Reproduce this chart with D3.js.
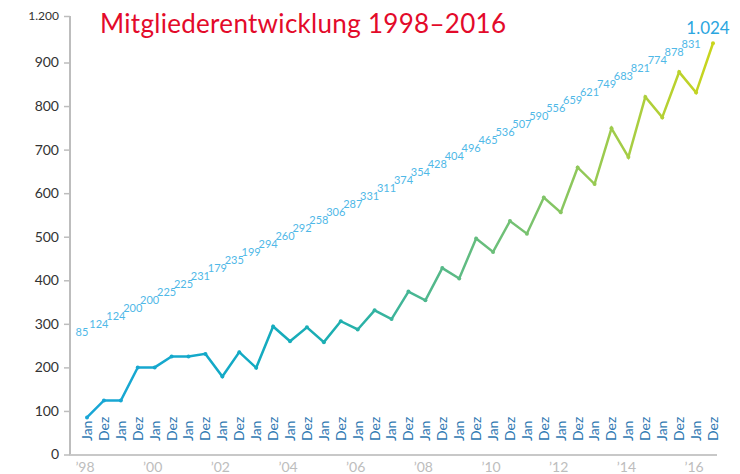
<!DOCTYPE html>
<html>
<head>
<meta charset="utf-8">
<script src="https://cdn.jsdelivr.net/npm/d3@7"></script>
<style>
  body { margin: 0; background: #fff; }
  svg { display: block; font-family: Lato, "Open Sans", sans-serif; }
</style>
</head>
<body>
<svg id="chart" width="740" height="474"></svg>
<script>
// Mitglieder jeweils im Januar und Dezember
const years = [1998, 1999, 2000, 2001, 2002, 2003, 2004, 2005, 2006, 2007,
               2008, 2009, 2010, 2011, 2012, 2013, 2014, 2015, 2016];
const months = ['Jan', 'Dez'];
const members = [85, 124, 124, 200, 200, 225, 225, 231, 179, 235,
                 199, 294, 260, 292, 258, 306, 287, 331, 311, 374,
                 354, 428, 404, 496, 465, 536, 507, 590, 556, 659,
                 621, 749, 683, 821, 774, 878, 831, 1024];
const yTicks = [0, 100, 200, 300, 400, 500, 600, 700, 800, 900, 1200];

const svg = d3.select('#chart');
const fmt = d3.formatLocale({ decimal: ',', thousands: '.', grouping: [3], currency: ['', '€'] }).format(',d');

const points = [];
years.forEach(y => months.forEach(m => points.push({ key: y + '-' + m, year: y, month: m })));
points.forEach((p, i) => p.value = members[i]);

const x = d3.scalePoint().domain(points.map(p => p.key)).range([87, 713]);
// Achse ist oberhalb von 900 gestaucht
const y = d3.scaleLinear().domain([0, 900, 1200]).range([454.5, 62.5, 16]);

// title
svg.append('text')
    .attr('x', 100).attr('y', 33)
    .attr('fill', '#e30a2a')
    .attr('font-size', 26)
    .attr('letter-spacing', 0.3)
    .text('Mitgliederentwicklung 1998–2016');

// y axis
const yAxis = svg.append('g').attr('transform', 'translate(70,0)')
    .call(d3.axisLeft(y).tickValues(yTicks).tickSize(6).tickPadding(5).tickFormat(fmt));
yAxis.select('.domain').attr('stroke', '#bdbdbd').attr('stroke-width', 2)
    .attr('d', `M0,${y(1200)}V${y(0) + 1}`);
yAxis.selectAll('.tick line').attr('stroke', '#bdbdbd').attr('stroke-width', 1.5);
yAxis.selectAll('.tick text').attr('fill', '#333').attr('font-size', 14)
    .attr('font-family', 'Lato, sans-serif');
yAxis.selectAll('.tick text').filter(d => d === 1200).attr('font-size', 12);

// x axis line
svg.append('line')
    .attr('x1', 70).attr('x2', 717)
    .attr('y1', y(0) + 0.5).attr('y2', y(0) + 0.5)
    .attr('stroke', '#c8c8c8').attr('stroke-width', 2);

// month labels
svg.append('g').selectAll('text')
    .data(points)
    .join('text')
    .attr('transform', d => `translate(${x(d.key)},441) rotate(-90)`)
    .attr('dy', '0.35em')
    .attr('fill', '#2f78b2')
    .attr('font-size', 14)
    .text(d => d.month);

// year labels (odd years sit below the visible area, as in the original)
svg.append('g').selectAll('text')
    .data(points.filter(p => p.month === 'Jan'))
    .join('text')
    .attr('x', d => x(d.key) - 2)
    .attr('y', d => d.year % 2 === 0 ? 472 : 486)
    .attr('text-anchor', 'middle')
    .attr('fill', '#bdbdbd')
    .attr('font-size', 14)
    .text(d => '\u2019' + String(d.year).slice(2));

// gradient for line
const grad = svg.append('defs').append('linearGradient')
    .attr('id', 'lineGrad')
    .attr('gradientUnits', 'userSpaceOnUse')
    .attr('x1', x.range()[0]).attr('x2', x.range()[1])
    .attr('y1', 0).attr('y2', 0);
grad.selectAll('stop')
    .data([
        { o: 0, c: '#19a6d6' },
        { o: 0.25, c: '#12aac4' },
        { o: 0.4, c: '#1dafb0' },
        { o: 0.55, c: '#52b88c' },
        { o: 0.7, c: '#78c270' },
        { o: 0.85, c: '#a2cc48' },
        { o: 1, c: '#c9d51c' }
    ])
    .join('stop')
    .attr('offset', d => d.o)
    .attr('stop-color', d => d.c);

const line = d3.line().x(d => x(d.key)).y(d => y(d.value));
svg.append('path')
    .datum(points)
    .attr('d', line)
    .attr('fill', 'none')
    .attr('stroke', 'url(#lineGrad)')
    .attr('stroke-width', 2.5)
    .attr('stroke-linejoin', 'miter');

svg.append('g').selectAll('circle')
    .data(points)
    .join('circle')
    .attr('cx', d => x(d.key))
    .attr('cy', d => y(d.value))
    .attr('r', 2)
    .attr('fill', 'url(#lineGrad)');

// value labels laid out on a diagonal
const labelY = d3.scaleLinear().domain([0, points.length - 1]).range([336, 40]);
svg.append('g').selectAll('text')
    .data(points)
    .join('text')
    .attr('x', d => x(d.key) - 5)
    .attr('y', (d, i) => i === points.length - 1 ? 34 : labelY(i))
    .attr('text-anchor', 'middle')
    .attr('fill', (d, i) => i === points.length - 1 ? '#2ba6df' : '#4fb8e7')
    .attr('font-size', (d, i) => i === points.length - 1 ? 17 : 11)
    .text(d => fmt(d.value));
</script>
</body>
</html>
